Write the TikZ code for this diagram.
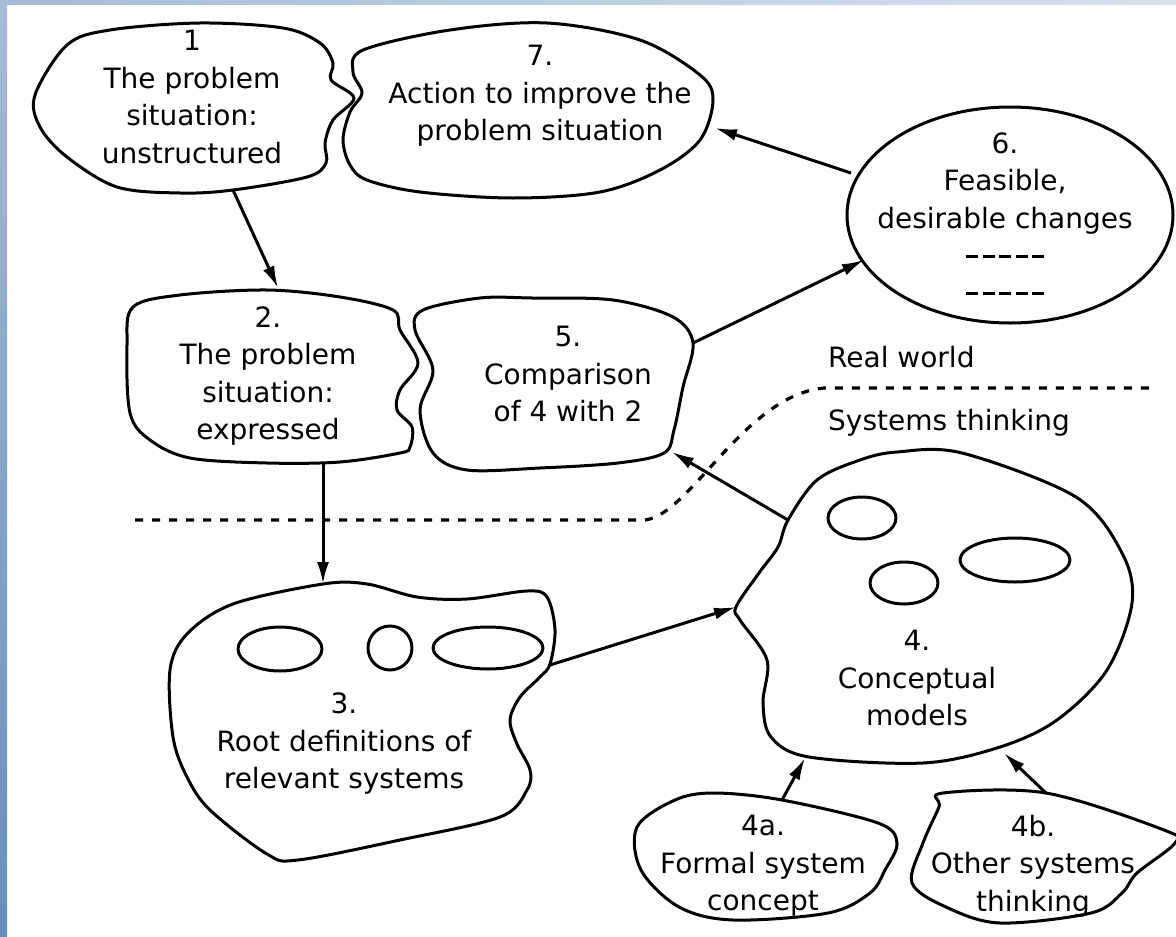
\documentclass[tikz,border=0pt]{standalone}
\usepackage{fontspec}
\setmainfont{DejaVu Sans}
\usetikzlibrary{arrows.meta}
\definecolor{bordA}{RGB}{165,188,215}
\definecolor{bordB}{RGB}{105,142,188}
\definecolor{bordC}{RGB}{215,226,238}
\newcommand{\dsh}{\rule[8pt]{12pt}{3pt}}
\newcommand{\dashrow}{\dsh\kern4.5pt\dsh\kern4.5pt\dsh\kern4.5pt\dsh\kern4.5pt\dsh}
\begin{document}
\begin{tikzpicture}[x=1pt,y=-1pt,
  blob/.style={draw=black, line width=3pt, line join=round},
  txt/.style={align=center, inner sep=0pt, font=\fontsize{28}{37.5}\selectfont},
  lbl/.style={anchor=west, inner sep=0pt, font=\fontsize{28}{37.5}\selectfont},
  arr/.style={draw=black, line width=3pt, -{Latex[length=22pt,width=12pt]}},
  bound/.style={draw=black, line width=3.2pt, dash pattern=on 8pt off 9pt}]
\useasboundingbox (0,0) rectangle (1176,937);
\fill[white] (0,0) rectangle (1176,937);
% frame strips
\shade[top color=bordA, bottom color=bordB] (0,0) rectangle (7,937);
\shade[left color=bordA, right color=bordC] (0,0) rectangle (1176,4);

% ---- blob outlines ----
\draw[blob] plot[smooth cycle, tension=0.55] coordinates {
 (35,95) (67,45) (110,30) (200,23) (283,28) (320,43) (333,63) (331,80)
 (354,98) (333,120) (325,143) (326,163) (307,177) (233,190) (180,193)
 (117,187) (67,157) (40,127)};
\draw[blob] plot[smooth cycle, tension=0.55] coordinates {
 (363,50) (450,30) (547,23) (640,40) (700,75) (713,100) (700,140) (660,170)
 (600,192) (513,198) (420,192) (367,180) (350,165) (343,140) (350,112)
 (362,93) (353,72)};
\draw[blob] plot[smooth cycle, tension=0.55] coordinates {
 (127,345) (133,307) (180,295) (267,290) (340,297) (393,310) (400,330)
 (418,363) (400,390) (397,410) (412,427) (410,447) (400,453) (340,462)
 (267,463) (190,458) (150,440) (130,413)};
\draw[blob] plot[smooth cycle, tension=0.55] coordinates {
 (415,330) (423,310) (480,298) (532,298) (613,300) (673,317) (693,343)
 (683,387) (674,430) (664,453) (618,463) (540,468) (467,470) (433,453)
 (420,410) (433,370)};
\draw[blob] (1010,215) ellipse [x radius=163, y radius=108];
\draw[blob] plot[smooth cycle, tension=0.55] coordinates {
 (323,584) (233,604) (187,634) (170,670) (173,737) (187,777) (210,810)
 (267,854) (298,860) (400,840) (500,817) (527,790) (530,770) (517,744)
 (510,720) (520,697) (540,677) (550,664) (555,630) (547,597) (527,591)
 (467,599) (417,597) (367,584)};
\draw[blob] plot[smooth cycle, tension=0.55] coordinates {
 (788,520) (817,480) (860,460) (897,452) (962,453) (1076,497) (1122,553)
 (1132,603) (1107,670) (1057,720) (1000,747) (923,763) (809,757)
 (771,737) (763,703) (767,660) (740,620) (736,607) (759,573) (778,547)};
\draw[blob] plot[smooth cycle, tension=0.55] coordinates {
 (675,800) (714,793) (782,800) (878,823) (897,843) (885,870) (870,893)
 (828,913) (733,920) (679,907) (641,870) (637,827)};
\draw[blob] plot[smooth cycle, tension=0.55] coordinates {
 (943,793) (1046,793) (1164,830) (1175,843) (1137,873) (1122,893)
 (1091,913) (1000,923) (946,907) (912,883) (923,843) (939,807)};

% inner ellipses
\draw[blob] (280,649) ellipse [x radius=42, y radius=22];
\draw[blob] (390,648) ellipse [x radius=22, y radius=22];
\draw[blob] (488,648) ellipse [x radius=55, y radius=21];
\draw[blob] (862,518) ellipse [x radius=34, y radius=21];
\draw[blob] (904,583) ellipse [x radius=34, y radius=21];
\draw[blob] (1015,560) ellipse [x radius=55, y radius=22];

% ---- texts ----
\node[txt] (t1) at (192,97) {1\\The problem\\situation:\\unstructured};
\node[txt] (t7) at (540,96) {7.\\Action to improve the\\problem situation};
\node[txt] (t2) at (268,376) {2.\\The problem\\situation:\\expressed};
\node[txt] (t5) at (568,374) {5.\\Comparison\\of 4 with 2};
\node[txt] (t6) at (1005,218) {6.\\Feasible,\\desirable changes\\\dashrow\\\dashrow};
\node[txt] (t3) at (344,744) {3.\\Root definitions of\\relevant systems};
\node[txt] (t4) at (917,678) {4.\\Conceptual\\models};
\node[txt] (t4a) at (763,866) {4a.\\Formal system\\concept};
\node[txt] (t4b) at (1033,866) {4b.\\Other systems\\thinking};
\node[lbl] (rw) at (828,357) {Real world};
\node[lbl] (st) at (828,423) {Systems thinking};

% ---- connector end points on outlines ----
\coordinate (n1s) at (233,190);
\coordinate (n2n) at (278,288);
\coordinate (n2s) at (323,463);
\coordinate (n3n) at (323,584);
\coordinate (n3e) at (550,665);
\coordinate (n4w) at (736,607);
\coordinate (n4nw) at (788,520);
\coordinate (n5se) at (672,452);
\coordinate (n5e) at (693,343);
\coordinate (n6sw) at (864,260);
\coordinate (n6w) at (851,173);
\coordinate (n7e) at (715,128);
\coordinate (n4aN) at (782,800);
\coordinate (n4s1) at (805,758);
\coordinate (n4bN) at (1046,793);
\coordinate (n4s2) at (1004,753);

\draw[arr] (n1s) -- (n2n);
\draw[arr] (n2s) -- (n3n);
\draw[arr] (n3e) -- (n4w);
\draw[arr] (n4nw) -- (n5se);
\draw[arr] (n5e) -- (n6sw);
\draw[arr] (n6w) -- (n7e);
\draw[arr] (n4aN) -- (n4s1);
\draw[arr] (n4bN) -- (n4s2);

% ---- boundary real world / systems thinking ----
\coordinate (bL) at (135,520);
\coordinate (bM) at (645,520);
\coordinate (bN) at (824,388);
\coordinate (bR) at (1149,388);
\draw[bound] (bL) -- (bM) .. controls (690,515) and (745,395) .. (bN) -- (bR);
\end{tikzpicture}
\end{document}
